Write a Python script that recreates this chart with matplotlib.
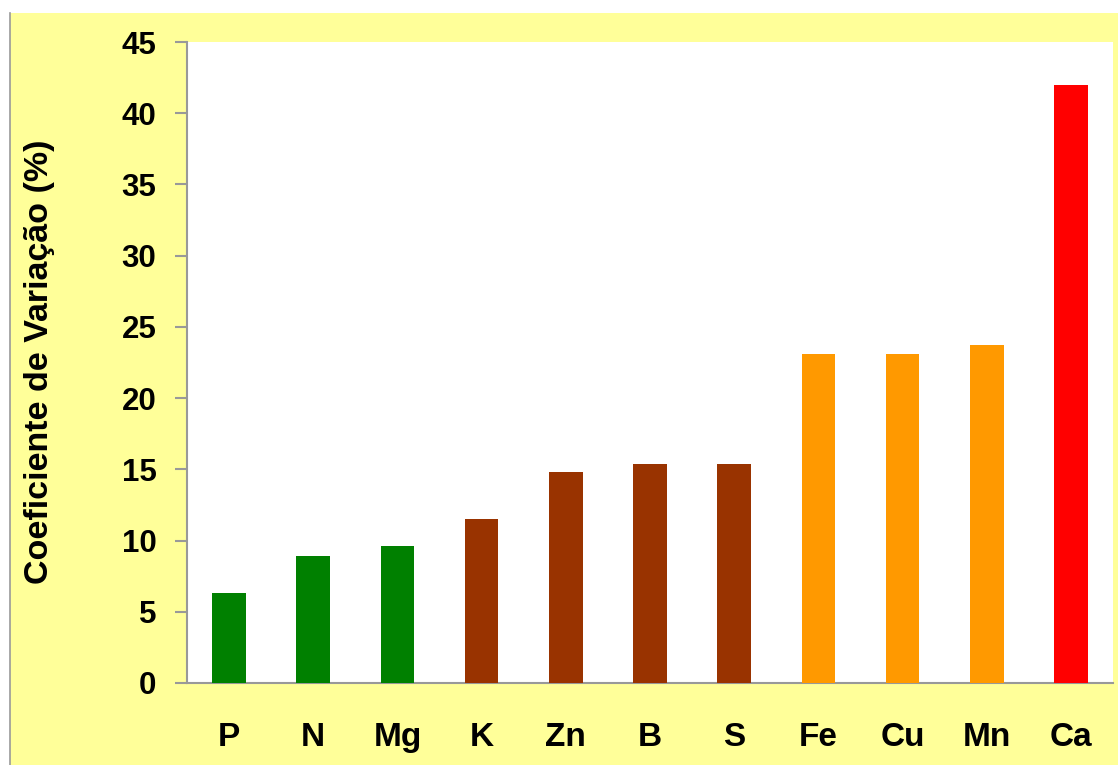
import matplotlib.pyplot as plt
from matplotlib.lines import Line2D

categories = ["P", "N", "Mg", "K", "Zn", "B", "S", "Fe", "Cu", "Mn", "Ca"]
values = [6.3, 8.9, 9.6, 11.5, 14.8, 15.4, 15.4, 23.1, 23.1, 23.7, 42.0]
groups = ["green", "green", "green", "brown", "brown", "brown", "brown",
          "orange", "orange", "orange", "red"]
palette = {"green": "#008000", "brown": "#993300", "orange": "#FF9900", "red": "#FF0000"}
yticks = [0, 5, 10, 15, 20, 25, 30, 35, 40, 45]

plt.rcParams["font.family"] = ["Liberation Sans", "DejaVu Sans"]

fig = plt.figure(figsize=(11.18, 7.65), dpi=100)
fig.patch.set_facecolor("white")

# yellow panel behind the chart, with a thin grey left border
panel = plt.Rectangle((10 / 1118, 0), 1 - 10 / 1118, (765 - 13) / 765,
                      transform=fig.transFigure, facecolor="#FFFF99",
                      edgecolor="none", zorder=-10)
fig.patches.append(panel)
fig.lines.append(Line2D([10 / 1118, 10 / 1118], [0, (765 - 13) / 765],
                        transform=fig.transFigure, color="#999999", lw=1.2,
                        zorder=-9))

ax = fig.add_axes([187 / 1118, (765 - 683) / 765, (1113 - 187) / 1118, (683 - 42) / 765])
ax.set_facecolor("white")

x = range(len(categories))
ax.bar(x, values, width=0.4, color=[palette[g] for g in groups], zorder=3)

ax.set_xlim(-0.5, len(categories) - 0.5)
ax.set_ylim(0, 45)
ax.set_yticks(yticks)
ax.set_xticks(list(x))
ax.set_xticklabels(categories)

for s in ["top", "right"]:
    ax.spines[s].set_visible(False)
for s in ["left", "bottom"]:
    ax.spines[s].set_color("#999999")
    ax.spines[s].set_linewidth(1.5)

ax.tick_params(axis="y", length=9, width=1.5, color="#999999", pad=13,
               labelsize=22.5)
ax.tick_params(axis="x", length=0, pad=28, labelsize=24)
for lbl in ax.get_yticklabels() + ax.get_xticklabels():
    lbl.set_fontweight("bold")

fig.text(40 / 1118, (765 - 362) / 765, "Coeficiente de Variação (%)",
         rotation=90, ha="center", va="center", fontsize=24.5, fontweight="bold")

fig.savefig("out.png", dpi=100)
